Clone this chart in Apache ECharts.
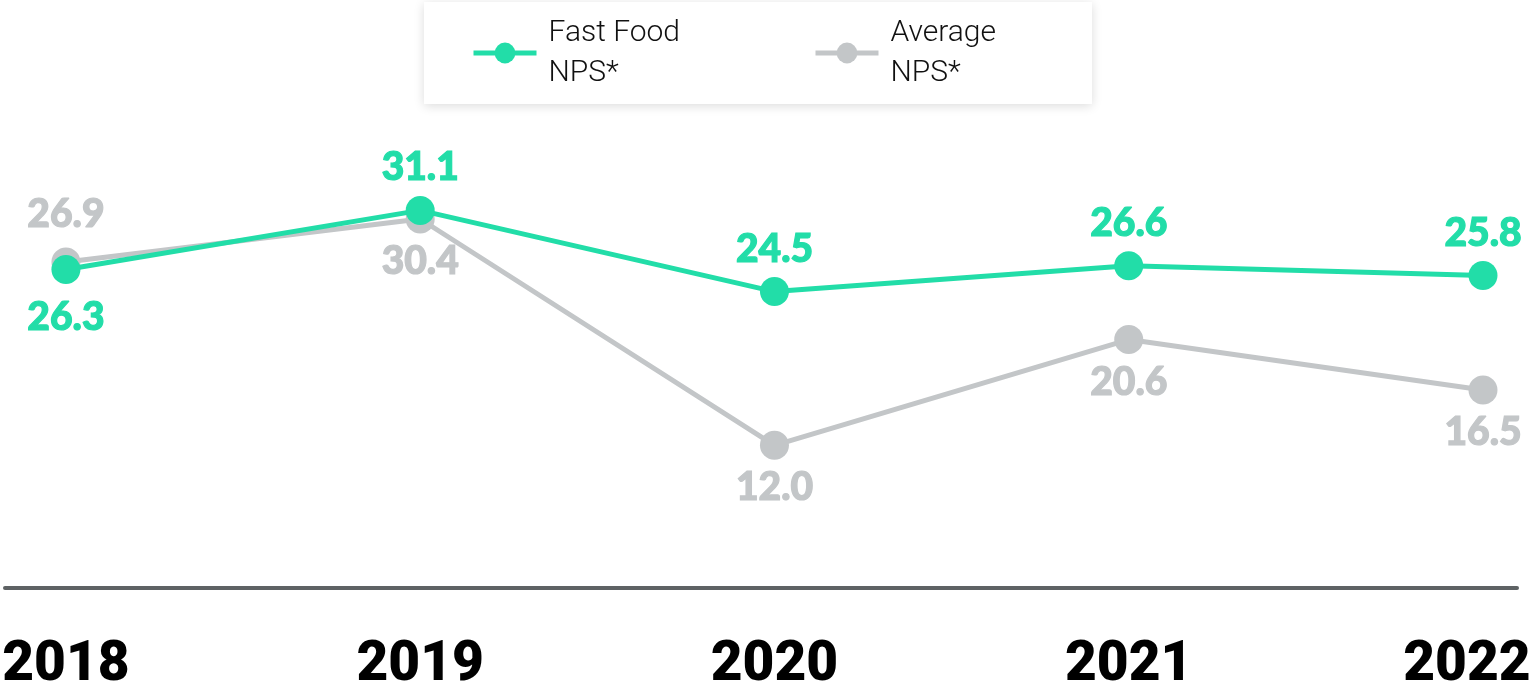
<!DOCTYPE html>
<html>
<head>
<meta charset="utf-8">
<script src="https://cdn.jsdelivr.net/npm/echarts@6/dist/echarts.min.js"></script>
<style>
html,body{margin:0;padding:0;background:#fff;}
#chart{width:1538px;height:689px;}
</style>
</head>
<body>
<div id="chart"></div>
<script>
var years = ['2018', '2019', '2020', '2021', '2022'];
var fastFood = [26.3, 31.1, 24.5, 26.6, 25.8];
var average = [26.9, 30.4, 12.0, 20.6, 16.5];
var fastFoodName = 'Fast Food\nNPS*';
var averageName = 'Average\nNPS*';
var green = '#22DDA8';
var grey = '#C3C6C8';

function pairs(arr) { return arr.map(function (v, i) { return [i, v]; }); }

var chart = echarts.init(document.getElementById('chart'));
var labelFont = { fontFamily: 'Lato', fontWeight: 900, fontSize: 39, lineHeight: 36 };

chart.setOption({
  animation: false,
  backgroundColor: '#fff',
  grid: { left: 5, right: 21, top: 96, bottom: 101, outerBoundsMode: 'none', containLabel: false },
  legend: {
    data: [fastFoodName, averageName],
    left: 424, top: 2,
    padding: [11, 96, 11, 47],
    itemWidth: 63, itemHeight: 26, itemGap: 133,
    backgroundColor: '#fff',
    lineStyle: { width: 5 },
    shadowBlur: 10, shadowColor: 'rgba(0,0,0,0.14)', shadowOffsetY: 2,
    textStyle: { fontFamily: 'Roboto', fontWeight: 300, fontSize: 30, lineHeight: 40, color: '#111', padding: [0, 0, 0, 7] }
  },
  xAxis: {
    type: 'value', min: -0.172, max: 4.096,
    splitLine: { show: false },
    axisTick: { show: false },
    axisLine: { show: true, lineStyle: { color: '#5E6264', width: 4 } },
    axisLabel: {
      customValues: [0, 1, 2, 3, 4],
      margin: 50,
      formatter: function (v) {
        var i = Math.round(v);
        return i === years.length - 1 ? '{last|' + years[i] + '}' : years[i];
      },
      fontFamily: 'Roboto', fontWeight: 900, fontSize: 55, lineHeight: 56, color: '#000',
      rich: { last: { fontFamily: 'Roboto', fontWeight: 900, fontSize: 55, lineHeight: 56, color: '#000', padding: [0, 32, 0, 0] } }
    }
  },
  yAxis: { type: 'value', min: 0.4, max: 40.4, show: false, splitLine: { show: false } },
  series: [
    {
      name: averageName, type: 'line', data: pairs(average),
      symbol: 'circle', symbolSize: 29,
      lineStyle: { color: grey, width: 5 }, itemStyle: { color: grey },
      label: {
        show: true, position: 'bottom', distance: 10, color: grey,
        textBorderColor: grey, textBorderWidth: 1.2,
        fontFamily: labelFont.fontFamily, fontWeight: labelFont.fontWeight, fontSize: labelFont.fontSize, lineHeight: labelFont.lineHeight,
        formatter: function (p) { return p.value[1].toFixed(1); }
      },
      labelLayout: function (p) { return p.dataIndex === 0 ? { dy: -(p.rect.height + 29 + 32) } : {}; },
      z: 2
    },
    {
      name: fastFoodName, type: 'line', data: pairs(fastFood),
      symbol: 'circle', symbolSize: 29,
      lineStyle: { color: green, width: 5 }, itemStyle: { color: green },
      label: {
        show: true, position: 'top', distance: 10, color: green,
        textBorderColor: green, textBorderWidth: 1.2,
        fontFamily: labelFont.fontFamily, fontWeight: labelFont.fontWeight, fontSize: labelFont.fontSize, lineHeight: labelFont.lineHeight,
        formatter: function (p) { return p.value[1].toFixed(1); }
      },
      labelLayout: function (p) { return p.dataIndex === 0 ? { dy: (p.rect.height + 29 + 32) } : {}; },
      z: 3
    }
  ]
});
</script>
</body>
</html>
